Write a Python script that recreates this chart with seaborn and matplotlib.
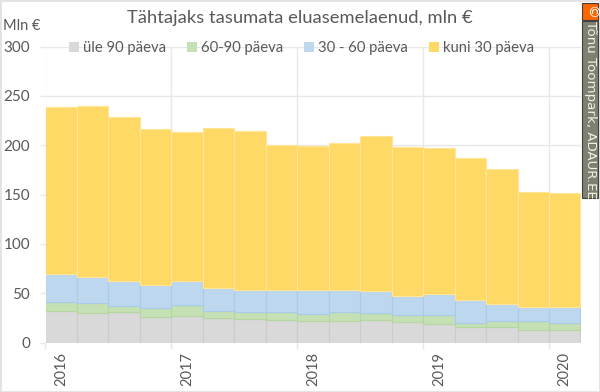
import pandas as pd
import seaborn as sns
from matplotlib import pyplot as plt
from matplotlib.colors import to_hex
from matplotlib.patches import Rectangle

# kvartalid 2016 Q1 .. 2020 Q1
quarters = [2016 + i * 0.25 for i in range(17)]
years = [2016, 2017, 2018, 2019, 2020]
series = ['üle 90 päeva', '60-90 päeva', '30 - 60 päeva', 'kuni 30 päeva']
colors = ['#D9D9D9', '#C5E0B4', '#BDD7EE', '#FFD966']
edges = ['#CBCBCB', '#B4D6A0', '#A9CBEA', '#FFE595']

# kumulatiivsed tasemed graafikult
level1 = [32, 30, 31, 26, 27, 25, 23.6, 23.3, 22, 22, 23, 21, 19, 15.5, 16, 13, 13]
level2 = [41, 40, 37, 35, 38, 32, 31.4, 31, 29, 31.4, 30, 27.7, 27.7, 20, 22, 21.6, 19.6]
level3 = [69, 66, 62, 58.5, 62.5, 55.7, 53, 53, 53, 53.7, 52.4, 47.6, 49.3, 43.2, 39.2, 35.8, 35.8]
level4 = [239, 239.6, 228.5, 216, 213, 217.6, 214, 200, 199, 202.4, 208.9, 198, 197, 187, 175.7, 152.3, 151.8]

rows = []
prev = [0] * 17
for name, level in zip(series, [level1, level2, level3, level4]):
    for q, v, p in zip(quarters, level, prev):
        rows.append({'q': q + 0.125, 'seeria': name, 'mln': v - p})
    prev = level
df = pd.DataFrame(rows)

plt.rcParams['font.family'] = ['Lato', 'DejaVu Sans']
fig = plt.figure(figsize=(6, 3.92), dpi=100)
ax = fig.add_axes([45.5 / 600, 1 - 342.5 / 392, (580.5 - 45.5) / 600, 296 / 392])

ax.grid(True, color='#E8E8E8', linewidth=1)
ax.set_axisbelow(True)

# esimene hue laheb virna peale, seega pooratud jarjekord
sns.histplot(data=df, x='q', weights='mln', hue='seeria', hue_order=series[::-1],
             multiple='stack', bins=[2016 + i * 0.25 for i in range(18)],
             palette=dict(zip(series, colors)), alpha=1, linewidth=0, legend=False, ax=ax)

# seeriate piirjooned
edge_of = {c.lower(): e for c, e in zip(colors, edges)}
for cont in ax.containers:
    for bar in cont:
        bar.set_edgecolor(edge_of[to_hex(bar.get_facecolor())])
        bar.set_linewidth(0.8)

ax.set_xlim(2016, 2020.25)
ax.set_ylim(0, 300)
ax.set_xlabel('')
ax.set_ylabel('')
ax.set_yticks([0, 50, 100, 150, 200, 250, 300])
ax.set_xticks(years)
ax.set_xticklabels([])
ax.set_xticks([y + 0.125 for y in years], labels=[str(y) for y in years], minor=True)
ax.tick_params(axis='x', which='major', length=4, color='#E8E8E8', width=1)
ax.tick_params(axis='x', which='minor', length=0, pad=7, labelrotation=90,
               labelsize=10.5, labelcolor='#595959')
ax.tick_params(axis='y', length=4, color='#E8E8E8', width=1, pad=7,
               labelsize=11, labelcolor='#595959')
for s in ax.spines.values():
    s.set_visible(False)

fig.text(300 / 600, 1 - 18 / 392, 'Tähtajaks tasumata eluasemelaenud, mln €',
         ha='center', va='center', fontsize=13.2, color='#595959')
fig.text(3 / 600, 1 - 26 / 392, 'Mln €', ha='left', va='center', fontsize=10.5, color='#595959')

# legend
handles = [Rectangle((0, 0), 1, 1, facecolor=c) for c in colors]
ax.legend(handles, series, loc='center', bbox_to_anchor=(0.4785, 0.995), ncol=4, frameon=False,
          fontsize=10.7, labelcolor='#595959', handlelength=0.67, handleheight=0.67,
          handletextpad=0.27, columnspacing=1.4)

# raam ja autoririba
fig.add_artist(Rectangle((0, 0), 1, 1, transform=fig.transFigure, fill=False,
                         edgecolor='#E2E2E2', linewidth=2))
fig.add_artist(Rectangle((582 / 600, 1 - 198 / 392), 16 / 600, 177 / 392, transform=fig.transFigure,
                         facecolor='#80806E', edgecolor='#404040', linewidth=0.8))
fig.add_artist(Rectangle((582 / 600, 1 - 20 / 392), 16 / 600, 17 / 392, transform=fig.transFigure,
                         facecolor='#FF6600', edgecolor='#404040', linewidth=0.8))
fig.text(590 / 600, 1 - 11.5 / 392, '©', ha='center', va='center', rotation=270, fontsize=10,
         color='white', family='DejaVu Sans')
fig.text(590 / 600, 1 - 109.5 / 392, 'Tõnu Toompark, ADAUR.EE', ha='center', va='center',
         rotation=270, fontsize=9.6, color='#F0F0E8', family='DejaVu Sans')

fig.savefig('out.png', dpi=100)
